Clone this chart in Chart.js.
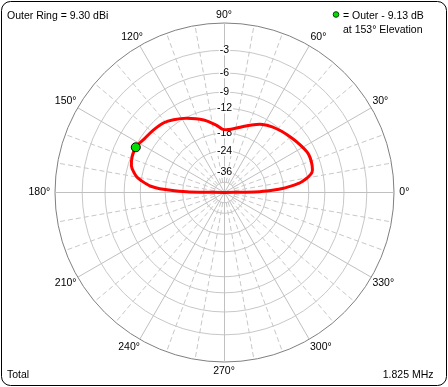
<!DOCTYPE html>
<html><head><meta charset="utf-8">
<script src="https://cdn.jsdelivr.net/npm/chart.js@4.4.1/dist/chart.umd.min.js"></script>
<style>html,body{margin:0;padding:0;background:#fff}canvas{display:block}</style>
</head><body>
<canvas id="c" width="448" height="387"></canvas>
<script>
// ---- data ----
const OUTER_DBI = 9.30;            // outer ring value
const FREQ_LABEL = '1.825 MHz';
const PATTERN_NAME = 'Total';
const peakElevation = 153;         // marker elevation (deg)
const peakBelowOuter = 9.13;       // marker dB below outer ring

// elevation angles (deg) and total gain (dBi)
const elevations = [0, 1, 2, 3, 4, 5, 6, 7, 8, 10, 13, 17, 22, 26, 32, 39, 47, 54, 61, 68, 75, 83, 88,
  92, 97, 106, 117, 125, 131, 139, 146, 153, 159, 164, 167, 170, 172, 174, 175, 176, 177, 178, 179, 180];
const gains = [-99, -20.4, -14.6, -11.3, -9.1, -7.4, -5.9, -4.8, -3.9, -2.75, -1.6, -1.25, -1.11, -1.19, -1.66, -2.23, -2.81, -3.33, -4.06, -5.18, -6.35, -7.44, -7.74,
  -7.55, -6.40, -4.58, -2.89, -1.80, -1.11, -0.69, -0.39, 0.17, 0.07, -0.31, -0.91, -1.76, -2.83, -4.02, -4.74, -6.13, -8.16, -11.65, -17.77, -99];

// ring levels (dB below outer ring) and their labels
const ringDb = [48, 36, 24, 18, 12, 9, 6, 3, 0];
const ringLabels = ['', '-36', '-24', '-18', '-12', '-9', '-6', '-3', ''];
// labelled angles
const angleTicks = [0, 30, 60, 90, 120, 150, 180, 210, 240, 270, 300, 330];

// ---- styles ----
const FONT = '"Liberation Sans", Arial, Helvetica, sans-serif';
const RING_C = '#c8c8c8', OUTER_C = '#808080', SPOKE_C = '#c0c0c0', DASH_C = '#c8c8c8';
const LABEL_STYLE = { // per-label padding / line height (placement tuning)
  90: [-3, 10.5], 270: [-0.8, 10.5], 0: [0.75, 10.5], 180: [-0.75, 10.5],
  60: [-1.6, 11.2], 120: [-12.5, 30], 30: [-3.2, 10], 150: [-4.3, 11.2],
  210: [-4.3, 11.2], 330: [-3.2, 10], 240: [-6.5, 19.6], 300: [-2.6, 12.8]
};
const PLOT_GEOM = { cx: 224.5, cy: 192.5, r: 169.5 };
// dashed spokes start a little away from the centre
const DASH_PATTERN = [0, 10].concat(Array.from({length: 40}, (_, k) => (k % 2 ? 3 : 5)));

// ARRL log scale: radius fraction for dB below outer ring
const arrl = (down) => Math.pow(0.89, down / 2);
const toRadius = (g) => arrl(OUTER_DBI - g);

// one category per degree, index 0 at top, clockwise
const N = 360;
const elevOf = (i) => ((90 - i) % 360 + 360) % 360;
const idxOf = (el) => ((90 - el) % 360 + 360) % 360;
const categories = Array.from({length: N}, (_, i) => elevOf(i));

const traceData = new Array(N).fill(null);
elevations.forEach((el, k) => { traceData[idxOf(el)] = toRadius(gains[k]); });
const markerData = new Array(N).fill(null);
markerData[idxOf(peakElevation)] = arrl(peakBelowOuter);

const ringValues = [0].concat(ringDb.map(arrl));
const tickLabelList = [''].concat(ringLabels);

Chart.defaults.font.family = FONT;
Chart.defaults.font.size = 10.5;
Chart.defaults.color = '#000';

const decor = {
  id: 'decor',
  beforeDraw(chart) {
    const ctx = chart.ctx;
    ctx.save(); ctx.fillStyle = '#fff'; ctx.fillRect(0, 0, chart.width, chart.height); ctx.restore();
  },
  afterDraw(chart) {
    const ctx = chart.ctx;
    ctx.save();
    ctx.font = '10.5px ' + FONT;
    ctx.fillStyle = '#000';
    ctx.textBaseline = 'alphabetic';
    ctx.textAlign = 'left';
    ctx.fillText('Outer Ring = ' + OUTER_DBI.toFixed(2) + ' dBi', 7, 18.5);
    ctx.fillText('= Outer - ' + peakBelowOuter.toFixed(2) + ' dB', 343, 18.5);
    ctx.fillText('at ' + peakElevation + '\u00B0 Elevation', 343, 33);
    ctx.fillText(PATTERN_NAME, 7, 377.5);
    ctx.textAlign = 'right';
    ctx.fillText(FREQ_LABEL, 433.5, 377.5);
    // legend dot
    ctx.beginPath(); ctx.arc(336, 14.5, 2.8, 0, Math.PI * 2);
    ctx.fillStyle = '#00e000'; ctx.fill();
    ctx.lineWidth = 1; ctx.strokeStyle = '#004000'; ctx.stroke();
    // frame
    ctx.beginPath(); ctx.roundRect(1.5, 1.5, 445, 384, 9);
    ctx.strokeStyle = '#000'; ctx.lineWidth = 1; ctx.stroke();
    ctx.restore();
  }
};

new Chart(document.getElementById('c'), {
  type: 'radar',
  data: {
    labels: categories,
    datasets: [
      { label: 'peak', data: markerData, order: 0, showLine: false, borderWidth: 0,
        pointRadius: 4.5, pointBorderWidth: 1, pointBackgroundColor: '#00e000', pointBorderColor: '#000' },
      { label: PATTERN_NAME, data: traceData, order: 1, spanGaps: true, fill: false,
        borderColor: '#ff0000', borderWidth: 3, pointRadius: 0, tension: 0.3 }
    ]
  },
  options: {
    responsive: false,
    animation: false,
    events: [],
    layout: { padding: { left: 0, right: 0, top: 9.75, bottom: 8.75 } },
    plugins: { legend: { display: false }, tooltip: { enabled: false }, title: { display: false } },
    scales: {
      r: {
        min: 0, max: 1, startAngle: 0,
        afterBuildTicks: (s) => { s.ticks = ringValues.map(v => ({ value: v })); },
        afterFit: (s) => { s.xCenter = PLOT_GEOM.cx; s.yCenter = PLOT_GEOM.cy; s.drawingArea = PLOT_GEOM.r; },
        grid: { circular: true, lineWidth: 1,
          color: (c) => c.index === ringValues.length - 1 ? OUTER_C : RING_C },
        angleLines: {
          display: true,
          color: (c) => elevOf(c.index) % 30 === 0 ? SPOKE_C : DASH_C,
          lineWidth: (c) => elevOf(c.index) % 10 === 0 ? 1 : 0,
          borderDash: (c) => elevOf(c.index) % 30 === 0 ? [] : DASH_PATTERN
        },
        ticks: {
          display: true, color: '#000', font: { size: 10.5 },
          backdropColor: '#fff', backdropPadding: { x: 1, y: 0 },
          showLabelBackdrop: (c) => !!tickLabelList[c.index],
          callback: (v, i) => tickLabelList[i]
        },
        pointLabels: {
          display: true, color: '#000',
          font: (c) => {
            const st = LABEL_STYLE[elevOf(c.index)];
            return { size: 10.5, lineHeight: (st ? st[1] : 10.5) + 'px' };
          },
          padding: (c) => { const st = LABEL_STYLE[elevOf(c.index)]; return st ? st[0] : -30; },
          callback: (lab) => angleTicks.includes(lab) ? lab + '\u00B0' : ''
        }
      }
    }
  },
  plugins: [decor]
});
</script>
</body></html>
